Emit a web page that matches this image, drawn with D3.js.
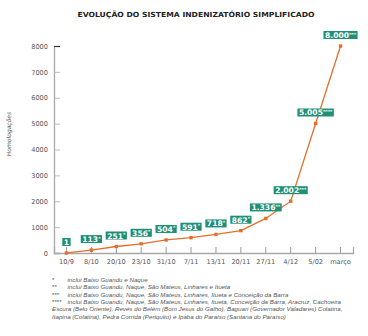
<!DOCTYPE html>
<html><head><meta charset="utf-8">
<script src="https://cdn.jsdelivr.net/npm/d3@7"></script>
<style>body{margin:0;background:#fff}svg{display:block}</style>
</head><body><svg id="c" width="368" height="336"></svg>
<script>
const categories = ["10/9","8/10","20/10","23/10","31/10","7/11","13/11","20/11","27/11","4/12","5/02","março"];
const values = [1,113,251,356,504,591,718,862,1336,2002,5005,8000];
const valueLabels = ["1","113","251","356","504","591","718","862","1.336","2.002","5.005","8.000"];
const labelMarks = ["","*","*","*","*","*","*","*","**","***","****","***"];
const yTicks = [0,1000,2000,3000,4000,5000,6000,7000,8000];
const title = "EVOLUÇÃO DO SISTEMA INDENIZATÓRIO SIMPLIFICADO";
const yTitle = "Homologações";
const notes = [
  ["*","inclui Baixo Guandu e Naque"],
  ["**","inclui Baixo Guandu, Naque, São Mateus, Linhares e Itueta"],
  ["***","inclui Baixo Guandu, Naque, São Mateus, Linhares, Itueta e Conceição da Barra"],
  ["****","inclui Baixo Guandu, Naque, São Mateus, Linhares, Itueta, Conceição da Barra, Aracruz, Cachoeira"],
  ["","Escura (Belo Oriente), Revés do Belém (Bom Jesus do Galho), Baguari (Governador Valadares) Colatina,"],
  ["","Itapina (Colatina), Pedra Corrida (Periquito) e Ipaba do Paraíso (Santana do Paraíso)"]
];

const svg = d3.select("#c");
const orange = "#e2702c", green = "#1f8f76", axisCol = "#a8a8a8";
const x = d3.scaleBand().domain(categories).range([54,353]);
const y = d3.scaleLinear().domain([0,8000]).range([253,46]);
const cx = c => x(c) + x.bandwidth()/2;

svg.append("text").attr("x",196).attr("y",17).attr("text-anchor","middle")
  .attr("font-family","DejaVu Sans").attr("font-weight","bold").attr("font-size",7)
  .attr("textLength",237).attr("lengthAdjust","spacingAndGlyphs").attr("fill","#222").text(title);

// y axis
const ya = svg.append("g").attr("transform","translate(54,0)")
  .call(d3.axisRight(y).tickValues(yTicks).tickSize(6).tickFormat(d3.format("d")));
ya.select(".domain").attr("stroke",axisCol).attr("stroke-width",1.3);
ya.selectAll(".tick line").attr("stroke",(d)=>d===8000?"#333":"#bbb");
ya.selectAll(".tick text").attr("x",-6).attr("text-anchor","end")
  .attr("font-family","DejaVu Sans").attr("font-size",6.6).attr("fill","#555");

// x axis
const xa = svg.append("g").attr("transform","translate(0,253)")
  .call(d3.axisTop(x).tickSize(6));
xa.select(".domain").attr("stroke",axisCol).attr("stroke-width",1.3);
xa.selectAll(".tick line").attr("stroke","#999");
xa.selectAll(".tick text").attr("y",11).attr("dy",0)
  .attr("font-family","DejaVu Sans").attr("font-size",6.6).attr("fill","#555");

svg.append("text").attr("transform","translate(11,134) rotate(-90)").attr("text-anchor","middle")
  .attr("font-family","DejaVu Sans").attr("font-style","italic").attr("font-size",6).attr("fill","#555").text(yTitle);

// line
const line = d3.line().x((d,i)=>cx(categories[i])).y(d=>y(d));
svg.append("path").datum(values).attr("d",line).attr("fill","none").attr("stroke",orange).attr("stroke-width",1.3);
svg.selectAll("rect.pt").data(values).join("rect").attr("class","pt")
  .attr("x",(d,i)=>cx(categories[i])-1.7).attr("y",d=>y(d)-1.7).attr("width",3.4).attr("height",3.4).attr("fill",orange);

// labels
const lab = svg.selectAll("g.lab").data(values).join("g").attr("class","lab");
lab.each(function(d,i){
  const g = d3.select(this);
  const px = cx(categories[i]), py = y(d) - 11;
  const t = g.append("text").attr("y",py+3).attr("font-family","DejaVu Sans").attr("font-weight","bold")
    .attr("font-size",7.6).attr("fill","#fff");
  t.append("tspan").text(valueLabels[i]);
  if (labelMarks[i]) t.append("tspan").attr("font-size",4.5).attr("dy",-2.5).text(labelMarks[i]);
  const w = t.node().getComputedTextLength();
  t.attr("x",px - w/2);
  g.insert("rect","text").attr("x",px-w/2-1.5).attr("y",py-4).attr("width",w+3).attr("height",8).attr("fill",green);
});

// notes
const nb = [282,289.3,296.6,303.9,311.2,318.5];
notes.forEach((n,i)=>{
  if (n[0]) svg.append("text").attr("x",52).attr("y",nb[i]).attr("font-family","Liberation Sans")
    .attr("font-size",6.2).attr("fill","#555").text(n[0]);
  svg.append("text").attr("x",n[0]?67.5:52).attr("y",nb[i]).attr("font-family","Liberation Sans")
    .attr("font-style","italic").attr("font-size",6.2).attr("fill","#555").text(n[1]);
});
</script></body></html>
